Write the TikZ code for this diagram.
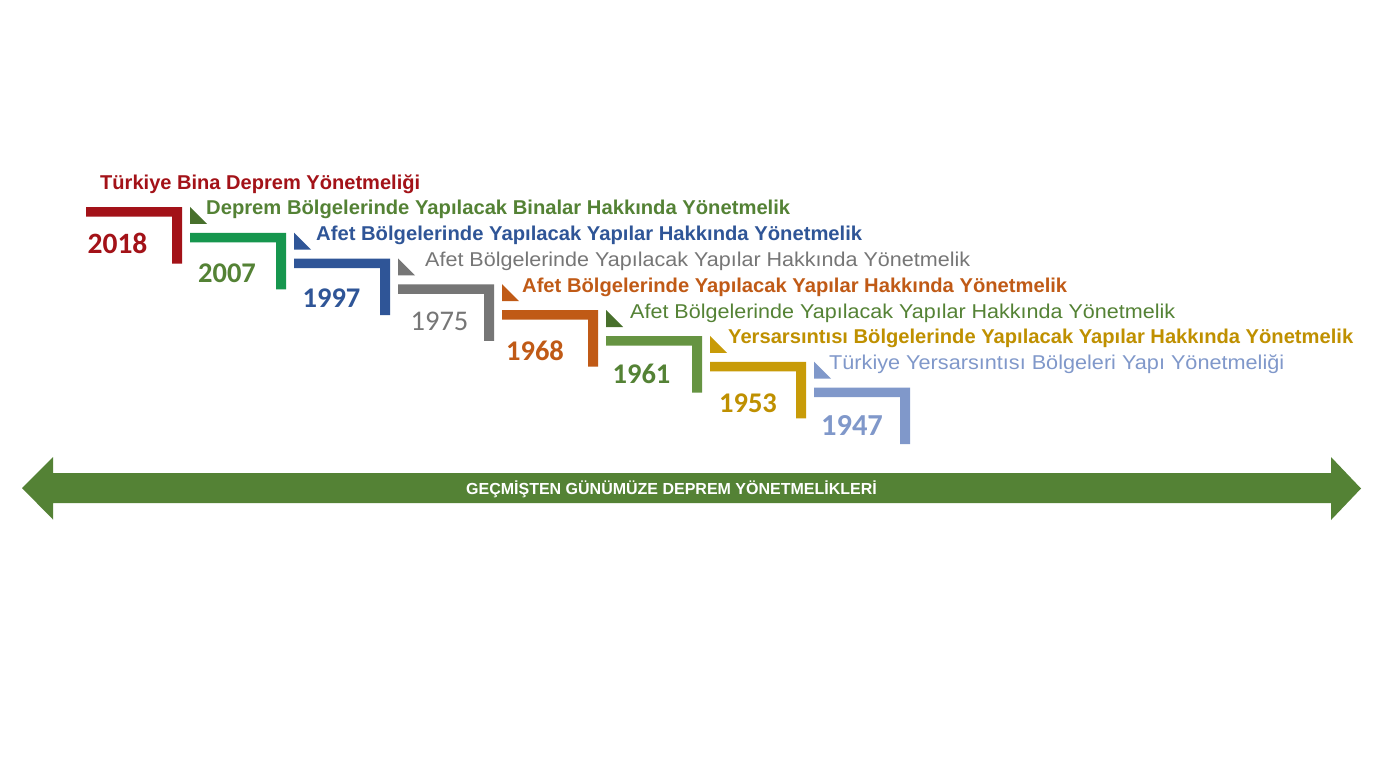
\documentclass[tikz,border=0pt]{standalone}
\usepackage{fontspec}
\usepackage{graphicx}
\setmainfont{Liberation Sans}
\newfontfamily\yearfont{Carlito}
\definecolor{cRed}{RGB}{163,18,24}
\definecolor{cGreenBar}{RGB}{22,150,78}
\definecolor{cOlive}{RGB}{84,130,53}
\definecolor{cOliveDark}{RGB}{72,112,44}
\definecolor{cBlue}{RGB}{47,85,151}
\definecolor{cGray}{RGB}{118,118,118}
\definecolor{cOrange}{RGB}{192,90,22}
\definecolor{cGreenB}{RGB}{102,148,66}
\definecolor{cGold}{RGB}{200,155,8}
\definecolor{cGoldText}{RGB}{191,144,0}
\definecolor{cLight}{RGB}{128,152,202}
\definecolor{cArrow}{RGB}{84,130,53}
\tikzset{
  titlebold/.style={anchor=base west, inner sep=0pt, font=\fontsize{20}{24}\selectfont\bfseries},
  titlereg/.style={anchor=base west, inner sep=0pt, font=\fontsize{20}{24}\selectfont},
  yearbold/.style={anchor=base, inner sep=0pt, font=\yearfont\fontsize{28.5}{32}\selectfont\bfseries},
  yearreg/.style={anchor=base, inner sep=0pt, font=\yearfont\fontsize{28.5}{32}\selectfont},
  arrowtext/.style={inner sep=0pt, text=white, font=\fontsize{16}{19}\selectfont\bfseries}
}
\newcommand{\mkstepL}[3]{% index, bar colour, triangle colour
  \pgfmathsetmacro{\sL}{86+104*#1}%
  \pgfmathsetmacro{\sT}{207+25.8*#1}%
  \fill[#2] (\sL,\sT) -- ++(96,0) -- ++(0,56.5) -- ++(-10,0) -- ++(0,-47) -- (\sL,\sT+9.5) -- cycle;
  \ifnum#1>0
    \fill[#3] (\sL,\sT-26) -- (\sL,\sT-9) -- (\sL+17,\sT-9) -- cycle;
  \fi
}
\begin{document}
\begin{tikzpicture}[x=1pt,y=-1pt]
\useasboundingbox[fill=white] (0,0) rectangle (1386,780);

% steps
\mkstepL{0}{cRed}{cRed}
\mkstepL{1}{cGreenBar}{cOliveDark}
\mkstepL{2}{cBlue}{cBlue}
\mkstepL{3}{cGray}{cGray}
\mkstepL{4}{cOrange}{cOrange}
\mkstepL{5}{cGreenB}{cOliveDark}
\mkstepL{6}{cGold}{cGold}
\mkstepL{7}{cLight}{cLight}

% titles
\node[titlebold, text=cRed] (t0) at (100,189) {\resizebox{320pt}{\height}{Türkiye Bina Deprem Yönetmeliği}};
\node[titlebold, text=cOlive] (t1) at (206,214.9) {\resizebox{584pt}{\height}{Deprem Bölgelerinde Yapılacak Binalar Hakkında Yönetmelik}};
\node[titlebold, text=cBlue] (t2) at (316,240.7) {\resizebox{546pt}{\height}{Afet Bölgelerinde Yapılacak Yapılar Hakkında Yönetmelik}};
\node[titlereg, text=cGray] (t3) at (425,266.5) {\resizebox{545pt}{\height}{Afet Bölgelerinde Yapılacak Yapılar Hakkında Yönetmelik}};
\node[titlebold, text=cOrange] (t4) at (522,292.3) {\resizebox{545pt}{\height}{Afet Bölgelerinde Yapılacak Yapılar Hakkında Yönetmelik}};
\node[titlereg, text=cOlive] (t5) at (630,318.1) {\resizebox{545pt}{\height}{Afet Bölgelerinde Yapılacak Yapılar Hakkında Yönetmelik}};
\node[titlebold, text=cGoldText] (t6) at (728,343.9) {\resizebox{625pt}{\height}{Yersarsıntısı Bölgelerinde Yapılacak Yapılar Hakkında Yönetmelik}};
\node[titlereg, text=cLight] (t7) at (829,369.7) {\resizebox{455pt}{\height}{Türkiye Yersarsıntısı Bölgeleri Yapı Yönetmeliği}};

% years
\node[yearbold, text=cRed, font=\yearfont\fontsize{29.5}{32}\selectfont\bfseries] (y0) at (117.5,253.5) {2018};
\node[yearbold, text=cOlive] (y1) at (227,282) {2007};
\node[yearbold, text=cBlue] (y2) at (331.5,307) {1997};
\node[yearreg, text=cGray] (y3) at (439.5,330) {1975};
\node[yearbold, text=cOrange] (y4) at (535,360) {1968};
\node[yearbold, text=cOlive] (y5) at (641.5,383) {1961};
\node[yearbold, text=cGoldText] (y6) at (748,412) {1953};
\node[yearbold, text=cLight, font=\yearfont\fontsize{30.5}{34}\selectfont\bfseries] (y7) at (852,435) {1947};

% timeline arrow
\fill[cArrow] (22,488) -- (53,457) -- (53,473) -- (1331,473) -- (1331,457) -- (1361,488.5)
  -- (1331,520) -- (1331,503) -- (53,503) -- (53,519.5) -- cycle;
\node[arrowtext] (arrowlabel) at (671.5,489) {GEÇMİŞTEN GÜNÜMÜZE DEPREM YÖNETMELİKLERİ};
\end{tikzpicture}
\end{document}
